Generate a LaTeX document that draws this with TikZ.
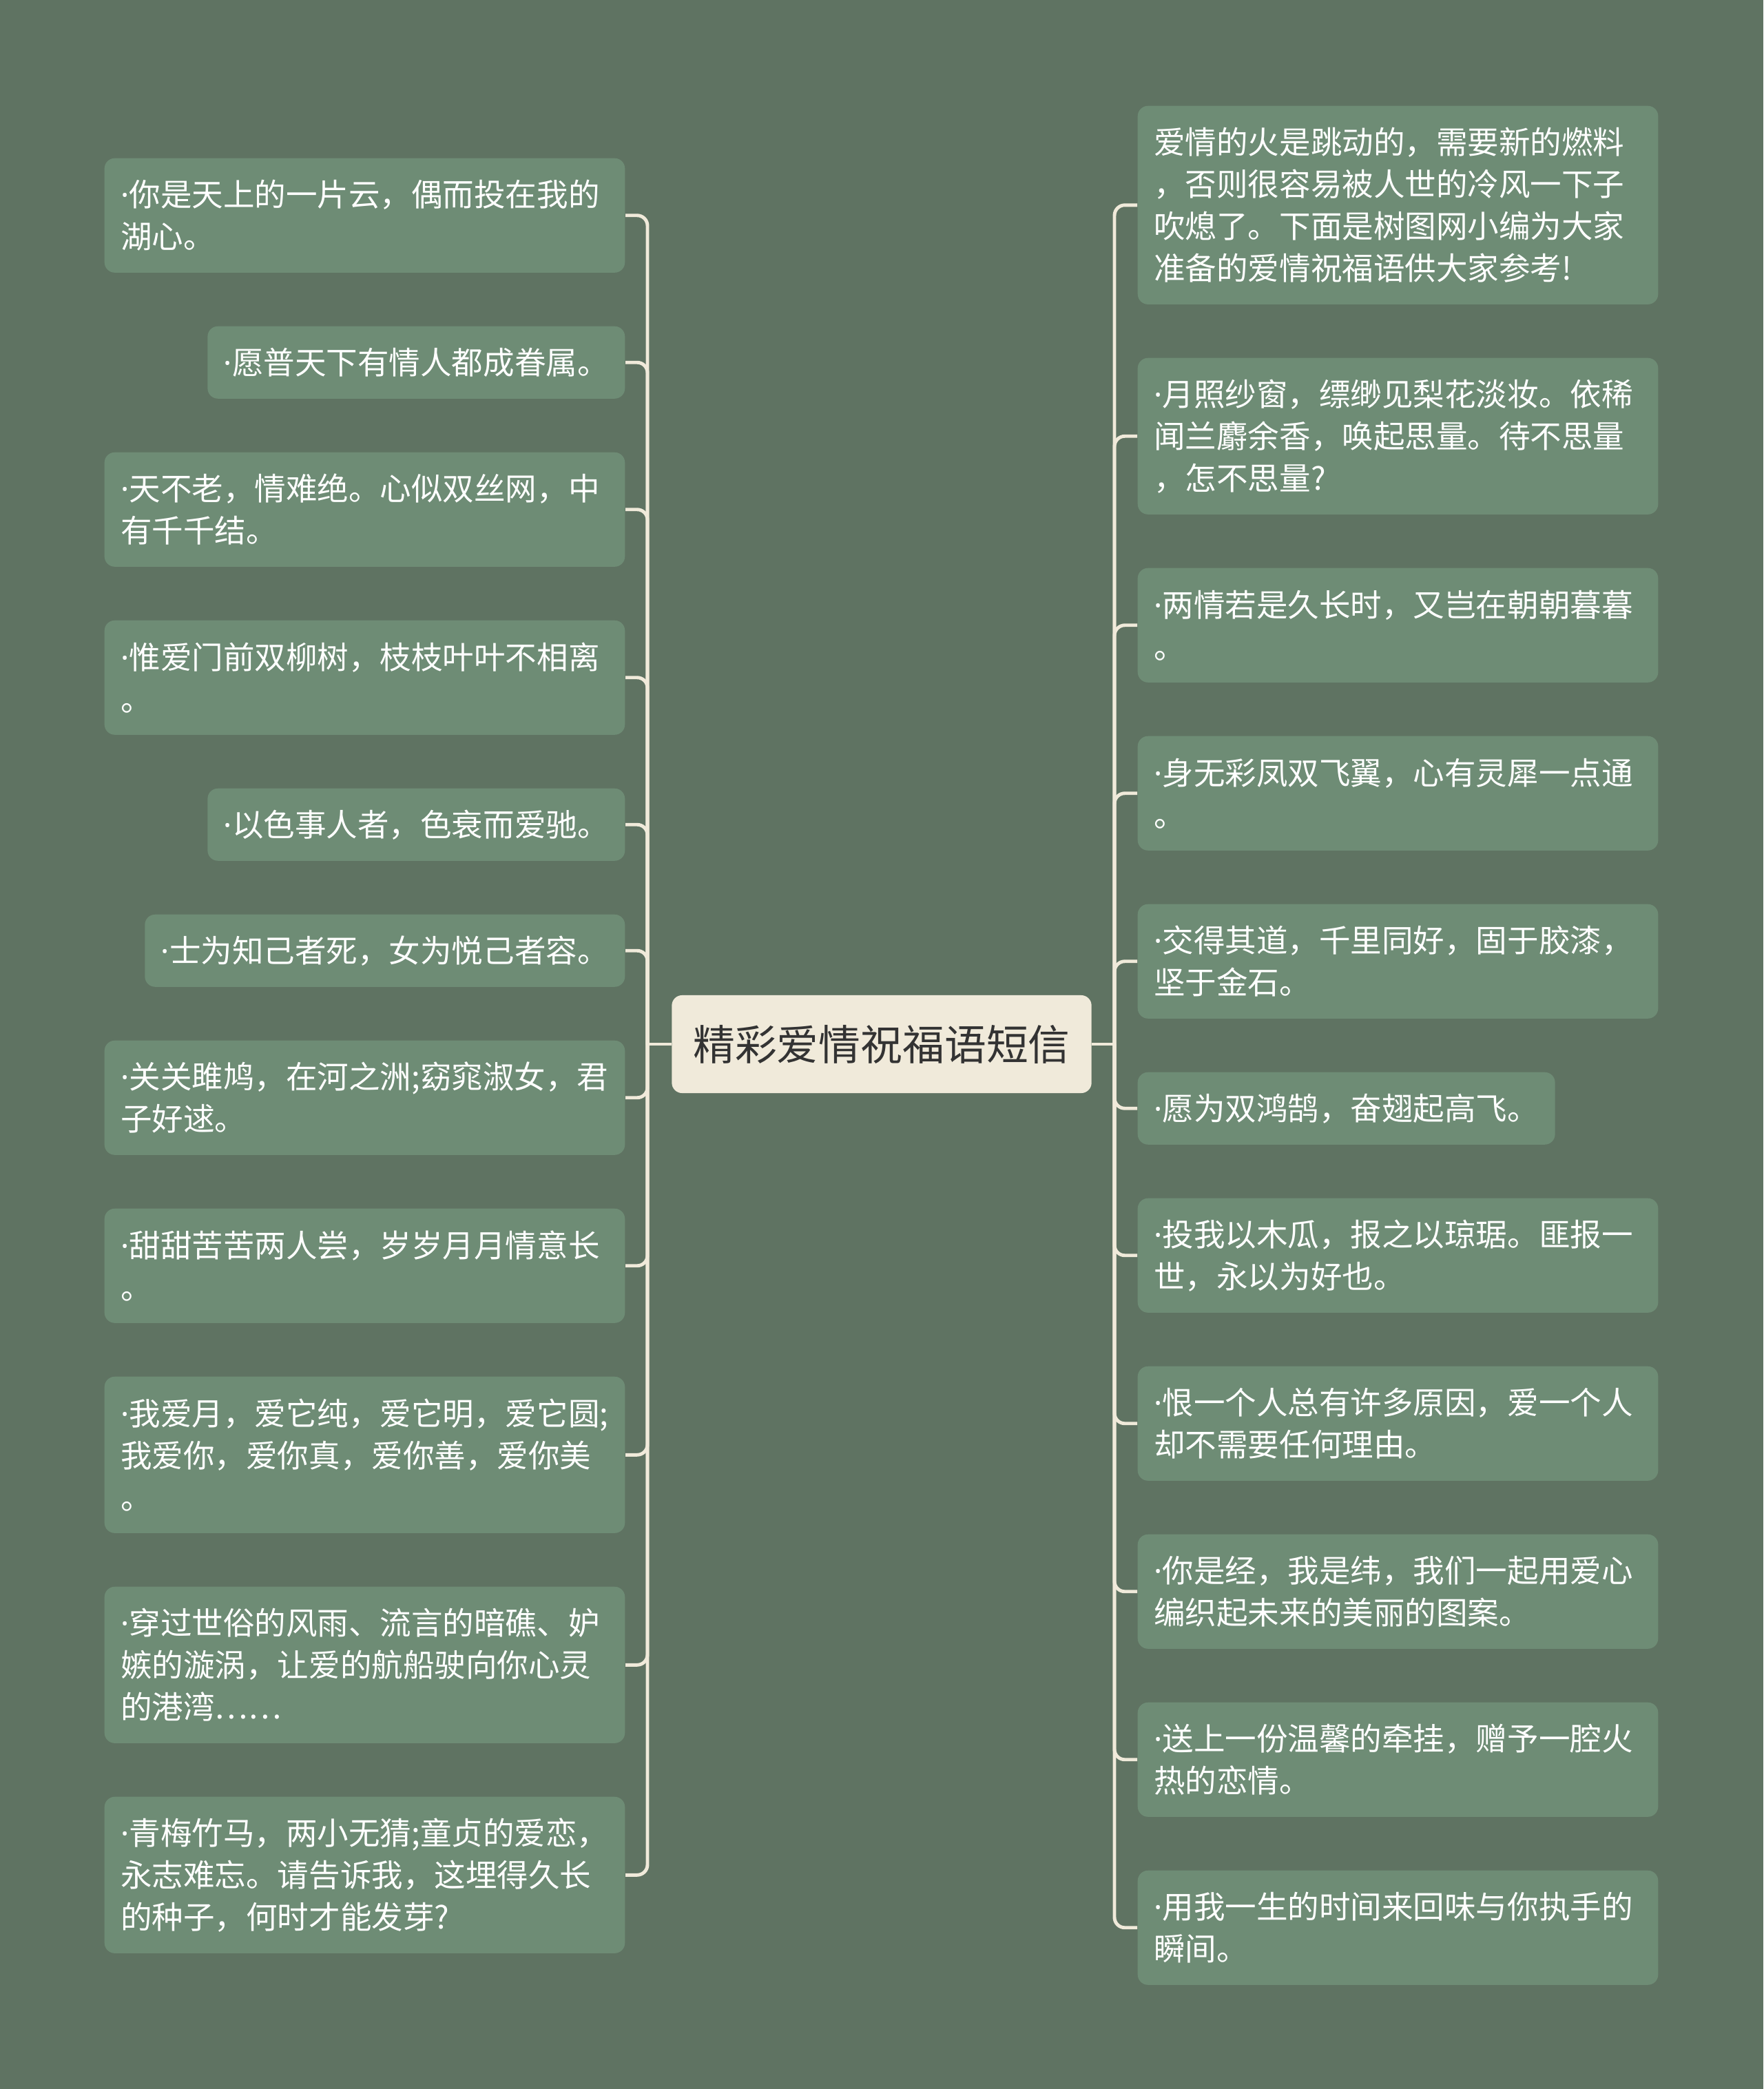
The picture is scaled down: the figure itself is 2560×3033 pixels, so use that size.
\documentclass[tikz,border=0pt]{standalone}
\usepackage{fontspec}
\setmainfont{Noto Sans CJK SC}
\newfontfamily\latinfont{Noto Sans}
\usetikzlibrary{positioning}

\definecolor{bggreen}{RGB}{95,115,98}
\definecolor{leafgreen}{RGB}{110,140,117}
\definecolor{rootcream}{RGB}{240,234,218}
\definecolor{rootink}{RGB}{51,51,51}

\newcommand{\leaffont}{\fontsize{12.95pt}{17.36pt}\selectfont}
\newcommand{\rootfont}{\fontsize{17.3pt}{20pt}\selectfont}
\newcommand{\bul}{{\latinfont ·}}

\tikzset{
  leaf/.style={fill=leafgreen, text=white, rounded corners=0.15cm,
    inner xsep=0.236cm, inner ysep=0.1cm, align=left, font=\leaffont},
  wide/.style={leaf, text width=7.08cm},
  oneline/.style={minimum height=1.05cm},
  twoline/.style={minimum height=1.66cm},
  threeline/.style={minimum height=2.27cm},
  fourline/.style={minimum height=2.88cm},
  root/.style={fill=rootcream, text=rootink, rounded corners=0.15cm,
    minimum width=6.09cm, minimum height=1.42cm, font=\rootfont},
  branch/.style={draw=rootcream, line width=1.4pt, rounded corners=0.15cm}
}

\begin{document}
\begin{tikzpicture}[x=0.01cm, y=-0.01cm]
            % Background
            \fill[bggreen] (0,0) rectangle (2560,3033);
            \useasboundingbox (0,0) rectangle (2560,3033);

            % Root
            \node[root] (root) at (1280,1516) {精彩爱情祝福语短信};
            \coordinate (ltrunk) at (940,1516);
            \coordinate (rtrunk) at (1618,1516);

            % Left leaves
            \node[wide, twoline, anchor=north east] (L1) at (908,229) {\bul 你是天上的一片云，偶而投在我的\\湖心。};
            \node[leaf, oneline, anchor=north east] (L2) at (908,473) {\bul 愿普天下有情人都成眷属。};
            \node[wide, twoline, anchor=north east] (L3) at (908,656) {\bul 天不老，情难绝。心似双丝网，中\\有千千结。};
            \node[wide, twoline, anchor=north east] (L4) at (908,900) {\bul 惟爱门前双柳树，枝枝叶叶不相离\\。};
            \node[leaf, oneline, anchor=north east] (L5) at (908,1144) {\bul 以色事人者，色衰而爱驰。};
            \node[leaf, oneline, anchor=north east] (L6) at (908,1327) {\bul 士为知己者死，女为悦己者容。};
            \node[wide, twoline, anchor=north east] (L7) at (908,1510) {\bul 关关雎鸠，在河之洲;窈窕淑女，君\\子好逑。};
            \node[wide, twoline, anchor=north east] (L8) at (908,1754) {\bul 甜甜苦苦两人尝，岁岁月月情意长\\。};
            \node[wide, threeline, anchor=north east] (L9) at (908,1998) {\bul 我爱月，爱它纯，爱它明，爱它圆;\\我爱你，爱你真，爱你善，爱你美\\。};
            \node[wide, threeline, anchor=north east] (L10) at (908,2303) {\bul 穿过世俗的风雨、流言的暗礁、妒\\嫉的漩涡，让爱的航船驶向你心灵\\的港湾……};
            \node[wide, threeline, anchor=north east] (L11) at (908,2608) {\bul 青梅竹马，两小无猜;童贞的爱恋，\\永志难忘。请告诉我，这埋得久长\\的种子，何时才能发芽?};

            % Right leaves
            \node[wide, fourline, anchor=north west] (R1) at (1651,153) {爱情的火是跳动的，需要新的燃料\\，否则很容易被人世的冷风一下子\\吹熄了。下面是树图网小编为大家\\准备的爱情祝福语供大家参考!};
            \node[wide, threeline, anchor=north west] (R2) at (1651,519) {\bul 月照纱窗，缥缈见梨花淡妆。依稀\\闻兰麝余香，唤起思量。待不思量\\，怎不思量?};
            \node[wide, twoline, anchor=north west] (R3) at (1651,824) {\bul 两情若是久长时，又岂在朝朝暮暮\\。};
            \node[wide, twoline, anchor=north west] (R4) at (1651,1068) {\bul 身无彩凤双飞翼，心有灵犀一点通\\。};
            \node[wide, twoline, anchor=north west] (R5) at (1651,1312) {\bul 交得其道，千里同好，固于胶漆，\\坚于金石。};
            \node[leaf, oneline, anchor=north west] (R6) at (1651,1556) {\bul 愿为双鸿鹄，奋翅起高飞。};
            \node[wide, twoline, anchor=north west] (R7) at (1651,1739) {\bul 投我以木瓜，报之以琼琚。匪报一\\世，永以为好也。};
            \node[wide, twoline, anchor=north west] (R8) at (1651,1983) {\bul 恨一个人总有许多原因，爱一个人\\却不需要任何理由。};
            \node[wide, twoline, anchor=north west] (R9) at (1651,2227) {\bul 你是经，我是纬，我们一起用爱心\\编织起未来的美丽的图案。};
            \node[wide, twoline, anchor=north west] (R10) at (1651,2471) {\bul 送上一份温馨的牵挂，赠予一腔火\\热的恋情。};
            \node[wide, twoline, anchor=north west] (R11) at (1651,2715) {\bul 用我一生的时间来回味与你执手的\\瞬间。};

            % Root to trunks
            \draw[branch] (root.west) -- (ltrunk);
            \draw[branch] (root.east) -- (rtrunk);

            % Left branches
            \draw[branch] (ltrunk) -- (ltrunk |- L1.east) -- (L1.east);
            \draw[branch] (ltrunk) -- (ltrunk |- L2.east) -- (L2.east);
            \draw[branch] (ltrunk) -- (ltrunk |- L3.east) -- (L3.east);
            \draw[branch] (ltrunk) -- (ltrunk |- L4.east) -- (L4.east);
            \draw[branch] (ltrunk) -- (ltrunk |- L5.east) -- (L5.east);
            \draw[branch] (ltrunk) -- (ltrunk |- L6.east) -- (L6.east);
            \draw[branch] (ltrunk) -- (ltrunk |- L7.east) -- (L7.east);
            \draw[branch] (ltrunk) -- (ltrunk |- L8.east) -- (L8.east);
            \draw[branch] (ltrunk) -- (ltrunk |- L9.east) -- (L9.east);
            \draw[branch] (ltrunk) -- (ltrunk |- L10.east) -- (L10.east);
            \draw[branch] (ltrunk) -- (ltrunk |- L11.east) -- (L11.east);

            % Right branches
            \draw[branch] (rtrunk) -- (rtrunk |- R1.west) -- (R1.west);
            \draw[branch] (rtrunk) -- (rtrunk |- R2.west) -- (R2.west);
            \draw[branch] (rtrunk) -- (rtrunk |- R3.west) -- (R3.west);
            \draw[branch] (rtrunk) -- (rtrunk |- R4.west) -- (R4.west);
            \draw[branch] (rtrunk) -- (rtrunk |- R5.west) -- (R5.west);
            \draw[branch] (rtrunk) -- (rtrunk |- R6.west) -- (R6.west);
            \draw[branch] (rtrunk) -- (rtrunk |- R7.west) -- (R7.west);
            \draw[branch] (rtrunk) -- (rtrunk |- R8.west) -- (R8.west);
            \draw[branch] (rtrunk) -- (rtrunk |- R9.west) -- (R9.west);
            \draw[branch] (rtrunk) -- (rtrunk |- R10.west) -- (R10.west);
            \draw[branch] (rtrunk) -- (rtrunk |- R11.west) -- (R11.west);

        \end{tikzpicture}
\end{document}
